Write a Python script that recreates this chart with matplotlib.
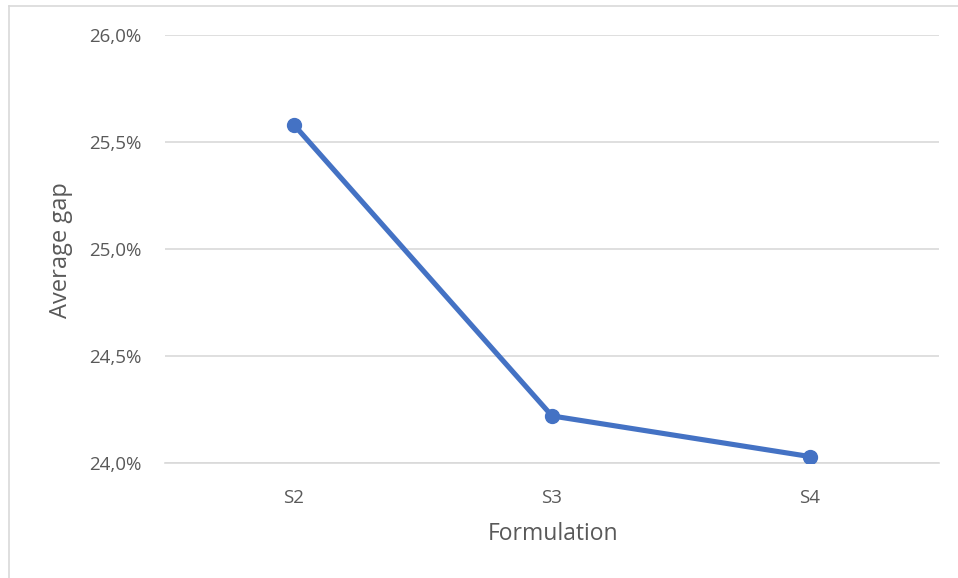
import matplotlib
matplotlib.use("Agg")
import matplotlib.pyplot as plt
from matplotlib.lines import Line2D
from matplotlib.ticker import FuncFormatter

plt.rcParams["font.family"] = ["Open Sans", "DejaVu Sans"]

formulations = ["S2", "S3", "S4"]
average_gap = [25.58, 24.22, 24.03]  # percent
y_ticks = [24.0, 24.5, 25.0, 25.5, 26.0]

W, H = 958, 578
fig = plt.figure(figsize=(W / 100, H / 100), dpi=100)
ax = fig.add_axes([165 / W, 1 - 463 / H, (939 - 165) / W, (463 - 35) / H])

x = range(len(formulations))
ax.plot(x, average_gap, color="#4472C4", linewidth=3.7, marker="o",
        markersize=10, solid_capstyle="round", zorder=3)

ax.set_xlim(-0.5, len(formulations) - 0.5)
ax.set_ylim(y_ticks[0], y_ticks[-1])
ax.set_yticks(y_ticks)
ax.yaxis.set_major_formatter(FuncFormatter(lambda v, _: f"{v:.1f}%".replace(".", ",")))
ax.set_xticks(list(x))
ax.set_xticklabels(formulations)

ax.grid(axis="y", color="#D9D9D9", linewidth=1.2)
ax.set_axisbelow(True)
for side in ["top", "right", "left"]:
    ax.spines[side].set_visible(False)
ax.spines["bottom"].set_color("#D9D9D9")
ax.spines["bottom"].set_linewidth(1.2)

ax.tick_params(axis="both", length=0, labelsize=13.5, labelcolor="#595959")
ax.tick_params(axis="y", pad=17)
ax.tick_params(axis="x", pad=19)

ax.set_xlabel("Formulation", fontsize=16.5, color="#595959")
ax.set_ylabel("Average gap", fontsize=17, color="#595959")
ax.xaxis.label.set_va("center")
ax.yaxis.label.set_va("center")
ax.xaxis.set_label_coords((553 - 165) / 774, (463 - 534) / 428)
ax.yaxis.set_label_coords((61 - 165) / 774, (463 - 250) / 428)

# outer chart frame (left and top edges)
fig.add_artist(Line2D([8.5 / W, 8.5 / W], [0, 1 - 6 / H], transform=fig.transFigure,
                      color="#D9D9D9", linewidth=1.2))
fig.add_artist(Line2D([8.5 / W, 1], [1 - 6 / H, 1 - 6 / H], transform=fig.transFigure,
                      color="#D9D9D9", linewidth=1.2))

fig.savefig("out.png", dpi=100)
